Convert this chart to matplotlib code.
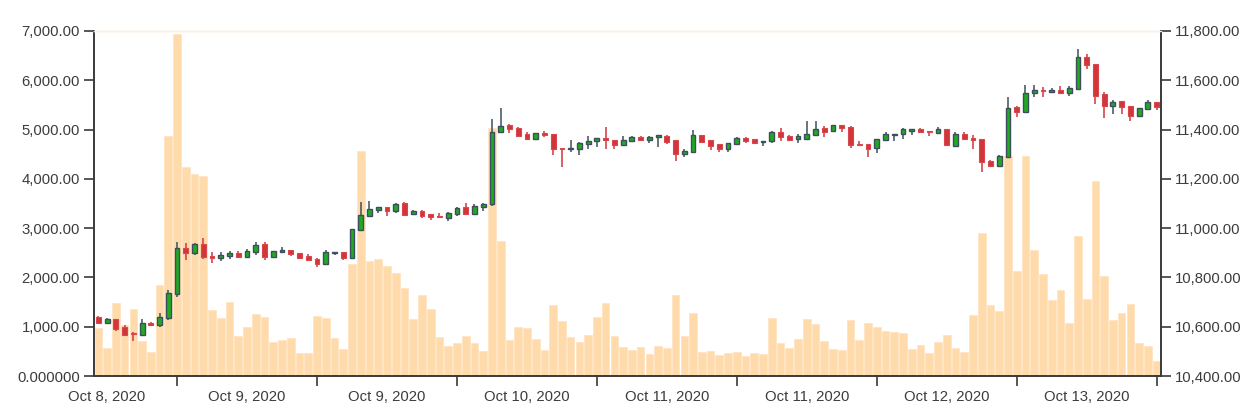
import matplotlib
matplotlib.use("Agg")
import matplotlib.pyplot as plt
import numpy as np

# hourly volume (left axis)
volume = [970, 560, 1475, 1040, 1355, 715, 480, 1840, 4870, 6930,
          4245, 4100, 4050, 1340, 1185, 1495, 810, 1000, 1255, 1205,
          695, 730, 775, 465, 470, 1225, 1175, 775, 552, 2282,
          4575, 2343, 2378, 2228, 2093, 1795, 1153, 1640, 1353, 785,
          605, 676, 805, 663, 514, 5025, 2739, 730, 994, 974,
          751, 528, 1434, 1116, 785, 690, 832, 1204, 1474, 818,
          582, 531, 595, 453, 615, 561, 1637, 812, 1271, 487,
          500, 433, 460, 494, 406, 473, 446, 1170, 676, 575,
          758, 1163, 1055, 710, 548, 528, 1143, 730, 1075, 994,
          913, 893, 866, 541, 629, 467, 690, 839, 568, 494,
          1245, 2908, 1441, 1319, 4460, 2137, 4464, 2550, 2070, 1542,
          1745, 1075, 2841, 1556, 3957, 2023, 1143, 1285, 1461, 670,
          609, 311]

# price candles (right axis)
open_ = [10640.7, 10616.3, 10631.2, 10597.4, 10576.0, 10566.3, 10616.3, 10606.9, 10636.6, 10732.7,
         10919.4, 10900.4, 10934.2, 10888.3, 10878.8, 10886.9, 10897.7, 10884.2, 10901.8, 10934.2,
         10884.2, 10904.5, 10911.2, 10897.7, 10888.3, 10876.1, 10854.4, 10897.7, 10901.8, 10880.1,
         10991.0, 11050.6, 11073.6, 11085.7, 11070.8, 11102.0, 11057.3, 11070.8, 11056.0, 11050.6,
         11042.4, 11057.3, 11084.4, 11057.3, 11084.4, 11096.6, 11390.1, 11417.1, 11407.7, 11382.0,
         11360.3, 11387.4, 11382.0, 11325.2, 11319.7, 11322.5, 11342.7, 11352.2, 11365.7, 11357.6,
         11337.3, 11354.9, 11371.2, 11357.6, 11368.5, 11375.2, 11357.6, 11300.8, 11309.0, 11377.9,
         11357.6, 11340.0, 11319.7, 11341.4, 11365.7, 11361.7, 11348.2, 11352.2, 11390.1, 11375.2,
         11361.7, 11363.0, 11379.3, 11405.0, 11394.2, 11418.5, 11411.7, 11341.4, 11341.4, 11325.2,
         11357.6, 11377.9, 11380.6, 11395.5, 11402.3, 11392.8, 11386.0, 11402.3, 11334.6, 11380.6,
         11364.4, 11361.7, 11271.1, 11252.1, 11290.0, 11490.2, 11472.6, 11547.0, 11560.5, 11553.8,
         11561.9, 11547.0, 11564.6, 11693.1, 11666.0, 11544.3, 11497.0, 11516.0, 11495.6, 11456.4,
         11483.4, 11511.8]
high = [10643.0, 10634.0, 10633.0, 10607.0, 10578.0, 10629.9, 10619.0, 10654.2, 10748.9, 10945.0,
        10938.3, 10938.3, 10958.6, 10901.8, 10901.8, 10907.2, 10905.8, 10914.0, 10942.3, 10943.7,
        10909.0, 10923.4, 10912.0, 10899.0, 10895.0, 10877.0, 10911.2, 10903.0, 10903.0, 10996.0,
        11104.7, 11110.1, 11087.0, 11087.0, 11103.0, 11107.4, 11072.0, 11072.0, 11057.0, 11062.7,
        11064.0, 11085.0, 11102.0, 11099.3, 11101.0, 11441.5, 11486.1, 11421.0, 11410.0, 11391.4,
        11388.0, 11395.5, 11384.0, 11326.0, 11357.6, 11348.0, 11375.2, 11367.0, 11411.7, 11359.0,
        11375.2, 11373.0, 11373.0, 11372.0, 11379.0, 11376.0, 11359.0, 11322.5, 11398.2, 11379.0,
        11359.0, 11341.0, 11346.0, 11371.2, 11371.2, 11363.0, 11355.0, 11393.0, 11405.0, 11379.0,
        11382.0, 11433.4, 11433.4, 11414.4, 11419.0, 11420.0, 11413.0, 11354.9, 11343.0, 11362.0,
        11391.4, 11384.0, 11405.0, 11402.0, 11407.7, 11394.0, 11409.0, 11403.0, 11388.7, 11391.4,
        11376.6, 11363.0, 11276.5, 11296.8, 11530.8, 11497.0, 11580.8, 11579.5, 11574.0, 11570.0,
        11575.4, 11576.8, 11725.6, 11705.3, 11667.0, 11552.4, 11520.0, 11517.0, 11497.0, 11488.0,
        11520.0, 11513.0]
low = [10609.0, 10612.0, 10584.0, 10562.0, 10542.0, 10564.0, 10604.0, 10600.1, 10627.2, 10719.2,
       10870.7, 10891.0, 10876.1, 10859.8, 10868.0, 10873.4, 10881.5, 10883.0, 10889.6, 10870.7,
       10882.0, 10903.0, 10888.3, 10876.1, 10869.0, 10840.9, 10853.0, 10889.6, 10870.7, 10879.0,
       10988.3, 11049.0, 11060.0, 11050.6, 11060.0, 11053.0, 11056.0, 11042.4, 11031.6, 11043.0,
       11028.9, 11049.2, 11056.0, 11056.0, 11068.2, 11091.2, 11389.0, 11384.7, 11371.2, 11359.0,
       11359.0, 11368.5, 11296.8, 11249.4, 11309.0, 11296.8, 11319.7, 11330.6, 11322.5, 11322.5,
       11336.0, 11353.0, 11356.0, 11346.8, 11330.6, 11341.4, 11273.8, 11287.3, 11307.0, 11349.0,
       11317.0, 11307.6, 11310.3, 11340.0, 11344.1, 11341.4, 11334.6, 11344.1, 11354.9, 11356.0,
       11346.8, 11362.0, 11378.0, 11371.2, 11392.0, 11391.4, 11326.5, 11335.0, 11290.0, 11306.2,
       11356.0, 11353.6, 11363.0, 11376.6, 11387.4, 11373.9, 11385.0, 11335.0, 11330.6, 11359.0,
       11321.1, 11226.4, 11249.0, 11251.0, 11283.2, 11452.3, 11471.0, 11533.5, 11533.5, 11547.0,
       11546.0, 11537.5, 11563.0, 11645.7, 11502.4, 11448.3, 11461.8, 11463.1, 11436.1, 11455.0,
       11482.0, 11479.3]
close = [10613.6, 10631.2, 10589.3, 10566.3, 10569.0, 10616.3, 10608.2, 10640.7, 10738.1, 10918.0,
         10900.4, 10934.2, 10881.5, 10880.1, 10891.0, 10899.1, 10882.8, 10905.8, 10930.2, 10881.5,
         10907.2, 10911.2, 10893.7, 10880.1, 10870.7, 10854.4, 10901.8, 10901.8, 10877.4, 10995.1,
         11054.6, 11077.6, 11085.7, 11069.5, 11099.3, 11054.6, 11070.8, 11050.6, 11043.8, 11043.8,
         11062.7, 11083.0, 11057.3, 11089.8, 11099.3, 11391.4, 11415.8, 11403.6, 11375.2, 11360.3,
         11386.0, 11379.3, 11322.5, 11321.1, 11326.5, 11346.8, 11354.9, 11365.7, 11356.3, 11337.3,
         11357.6, 11371.2, 11357.6, 11371.2, 11377.9, 11350.9, 11300.8, 11313.0, 11377.9, 11350.9,
         11333.3, 11319.7, 11344.1, 11364.4, 11354.9, 11346.8, 11353.6, 11391.4, 11368.5, 11357.6,
         11372.5, 11383.3, 11403.6, 11391.4, 11417.1, 11406.3, 11336.0, 11336.0, 11322.5, 11360.3,
         11380.6, 11383.3, 11400.9, 11400.9, 11391.4, 11388.7, 11402.3, 11336.0, 11380.6, 11360.3,
         11359.0, 11267.0, 11250.8, 11294.1, 11488.8, 11471.3, 11547.0, 11559.2, 11555.1, 11560.5,
         11547.0, 11567.3, 11693.1, 11663.3, 11537.5, 11495.6, 11513.2, 11490.2, 11456.4, 11486.1,
         11511.8, 11490.2]

# x-axis: tick marks and the date labels sitting between them
tick_idx = [9, 25, 41, 57, 73, 89, 105, 121]
label_idx = [1, 17, 33, 49, 65, 81, 97, 113]
date_labels = ["Oct 8, 2020", "Oct 9, 2020", "Oct 9, 2020", "Oct 10, 2020",
               "Oct 11, 2020", "Oct 11, 2020", "Oct 12, 2020", "Oct 13, 2020"]

plt.rcParams['font.family'] = ['Liberation Sans', 'DejaVu Sans']
txt = '#3c3c3c'
axc = '#3a3a3a'
fs = 10.7

fig = plt.figure(figsize=(12.57, 4.18), dpi=100)
ax = fig.add_axes([94/1257, 1 - 376/418, 1067/1257, 345/418])
ax2 = ax.twinx()

x = np.arange(len(volume))
ax.bar(x, volume, width=0.88, color='#ffdaab', edgecolor='#ffe3bf', linewidth=0.5, zorder=1)

o = np.array(open_)
c = np.array(close)
h = np.array(high)
l = np.array(low)
up = c >= o
wick_col = np.where(up, '#3d4f5f', '#d2363b')
ax2.vlines(x, l, h, colors=wick_col, linewidth=1.1, zorder=2)
body_bottom = np.minimum(o, c)
body_h = np.maximum(np.abs(c - o), 2.5)
ax2.bar(x[up], body_h[up], bottom=body_bottom[up], width=0.55,
        color='#1faa1f', edgecolor='#3d4f5f', linewidth=1.0, zorder=3)
ax2.bar(x[~up], body_h[~up], bottom=body_bottom[~up], width=0.55,
        color='#d2363b', edgecolor='#d9464b', linewidth=0.8, zorder=3)

ax.set_xlim(-0.5, len(volume) - 0.5)
ax.set_ylim(0, 7000)
ax2.set_ylim(10400, 11800)

ax.set_yticks(np.arange(0, 7001, 1000))
ax.set_yticklabels(["0.000000"] + ["{:,.2f}".format(v) for v in np.arange(1000, 7001, 1000)])
ax2.set_yticks(np.arange(10400, 11801, 200))
ax2.set_yticklabels(["{:,.2f}".format(v) for v in np.arange(10400, 11801, 200)])

ax.set_xticks(tick_idx)
ax.set_xticklabels([""] * len(tick_idx))
ax.set_xticks(label_idx, minor=True)
ax.set_xticklabels(date_labels, minor=True)

ax.tick_params(axis='x', which='major', length=7, width=1.2, color=axc)
ax.tick_params(axis='x', which='minor', length=0, pad=10, labelsize=fs, labelcolor=txt)
ax.tick_params(axis='y', length=7, width=1.2, color=axc, pad=3, labelsize=fs, labelcolor=txt)
ax2.tick_params(axis='y', length=7, width=1.2, color=axc, pad=3, labelsize=fs, labelcolor=txt)

for a in (ax, ax2):
    a.spines['top'].set_color('#fdf0de')
    a.spines['top'].set_linewidth(1.0)
ax.spines['left'].set_color(axc)
ax.spines['left'].set_linewidth(1.4)
ax.spines['bottom'].set_color(axc)
ax.spines['bottom'].set_linewidth(1.4)
ax.spines['right'].set_visible(False)
ax2.spines['left'].set_visible(False)
ax2.spines['bottom'].set_visible(False)
ax2.spines['right'].set_color(axc)
ax2.spines['right'].set_linewidth(1.4)

fig.savefig("out.png", dpi=100)
